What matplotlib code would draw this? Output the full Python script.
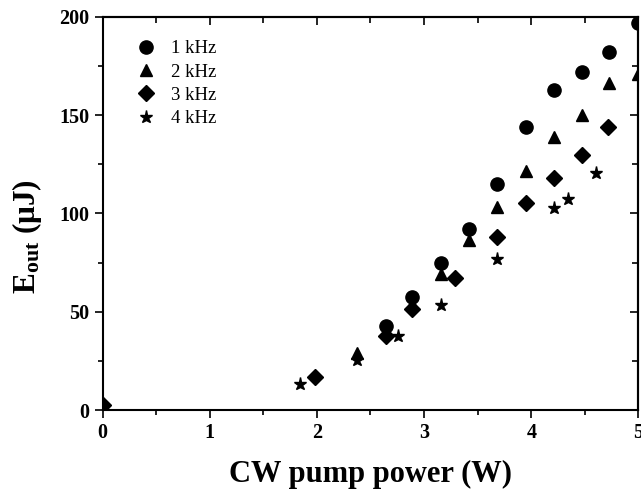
import matplotlib
matplotlib.use("Agg")
import matplotlib.pyplot as plt
from matplotlib.ticker import MultipleLocator

plt.rcParams['font.family'] = ['Liberation Serif', 'DejaVu Serif']
plt.rcParams['mathtext.fontset'] = 'custom'
plt.rcParams['mathtext.rm'] = 'Liberation Serif:bold'
plt.rcParams['mathtext.bf'] = 'Liberation Serif:bold'

# 1 kHz
p1 = [2.64, 2.89, 3.16, 3.42, 3.68, 3.95, 4.21, 4.47, 4.73, 5.0]
e1 = [42.7, 57.6, 74.6, 92.2, 114.8, 144.1, 162.8, 171.9, 182.0, 196.7]
# 2 kHz
p2 = [2.37, 2.64, 2.89, 3.16, 3.42, 3.68, 3.95, 4.21, 4.47, 4.73, 5.0]
e2 = [28.8, 40.0, 54.0, 69.0, 86.5, 103.1, 121.8, 139.0, 150.0, 166.2, 171.0]
# 3 kHz
p3 = [0.0, 1.98, 2.64, 2.89, 3.29, 3.68, 3.95, 4.21, 4.47, 4.72]
e3 = [2.6, 16.6, 37.6, 51.2, 67.0, 87.8, 105.5, 118.0, 129.5, 143.8]
# 4 kHz
p4 = [1.84, 2.37, 2.76, 3.16, 3.68, 4.21, 4.34, 4.60]
e4 = [13.1, 25.5, 37.6, 53.4, 76.6, 102.6, 107.5, 120.4]

fig = plt.figure(figsize=(6.41, 4.97), dpi=100)
ax = fig.add_axes([0.16, 0.175, 0.836, 0.791])

ax.plot(p1, e1, 'o', color='black', ms=9.5, label='1 kHz')
ax.plot(p2, e2, '^', color='black', ms=8.5, label='2 kHz')
ax.plot(p3, e3, 'D', color='black', ms=8.5, label='3 kHz')
ax.plot(p4, e4, '*', color='black', ms=9.5, label='4 kHz')

ax.set_xlim(0, 5)
ax.set_ylim(0, 200)
ax.xaxis.set_major_locator(MultipleLocator(1))
ax.xaxis.set_minor_locator(MultipleLocator(0.5))
ax.yaxis.set_major_locator(MultipleLocator(50))
ax.yaxis.set_minor_locator(MultipleLocator(25))

ax.tick_params(which='both', direction='out', top=False, right=False, width=1.2)
ax.tick_params(which='major', length=6, labelsize=14.5)
ax.tick_params(which='minor', length=3.5)
for lab in ax.get_xticklabels() + ax.get_yticklabels():
    lab.set_fontweight('bold')

# mirrored ticks pointing inward on top and right
ax2 = ax.secondary_xaxis('top')
ax2.xaxis.set_major_locator(MultipleLocator(1))
ax2.xaxis.set_minor_locator(MultipleLocator(0.5))
ax2.tick_params(which='both', direction='in', labeltop=False, width=1.2)
ax2.tick_params(which='major', length=6)
ax2.tick_params(which='minor', length=4)
ax3 = ax.secondary_yaxis('right')
ax3.yaxis.set_major_locator(MultipleLocator(50))
ax3.yaxis.set_minor_locator(MultipleLocator(25))
ax3.tick_params(which='both', direction='in', labelright=False, width=1.2)
ax3.tick_params(which='major', length=6)
ax3.tick_params(which='minor', length=4)

for sp in ax.spines.values():
    sp.set_linewidth(1.5)
ax2.spines['top'].set_linewidth(1.5)
ax3.spines['right'].set_linewidth(1.5)

ax.set_xlabel('CW pump power (W)', fontsize=22, fontweight='bold', labelpad=12)
ax.set_ylabel(r'$\mathbf{E_{out}}$ ($\mathbf{\mu}$J)', fontsize=22.5, fontweight='bold', labelpad=11)
ax.yaxis.label.set_y(0.44)

ax.legend(loc='upper left', frameon=False, fontsize=13.5, handletextpad=0.6,
          labelspacing=0.33, borderaxespad=0, handlelength=1.5,
          bbox_to_anchor=(0.041, 0.96))

fig.savefig('out.png', dpi=100)
